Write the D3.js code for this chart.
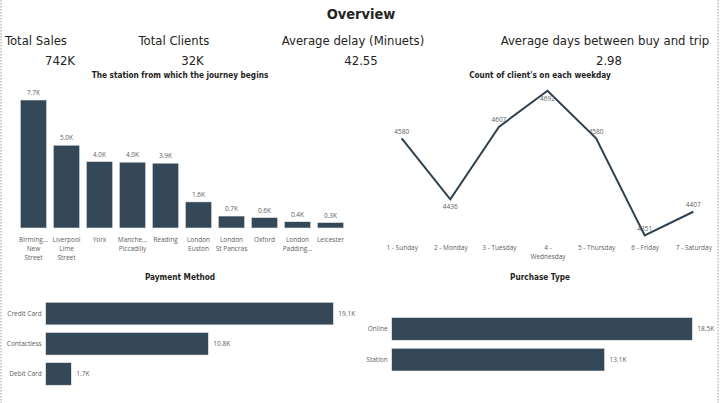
<!DOCTYPE html>
<html><head><meta charset="utf-8">
<script src="https://cdn.jsdelivr.net/npm/d3@7"></script>
<style>
body{margin:0;background:#fff;}
svg{display:block;}
</style></head>
<body><svg id="c" width="720" height="403"></svg>
<script>
// ---- data ----
const kpiLabels = ["Total Sales","Total Clients","Average delay (Minuets)","Average days between buy and trip"];
const kpiValues = ["742K","32K","42.55","2.98"];

const stations = ["Birming... New Street","Liverpool Lime Street","York","Manche... Piccadilly","Reading","London Euston","London St Pancras","Oxford","London Padding...","Leicester"];
const stationLines = [["Birming...","New","Street"],["Liverpool","Lime","Street"],["York"],["Manche...","Piccadilly"],["Reading"],["London","Euston"],["London","St Pancras"],["Oxford"],["London","Padding..."],["Leicester"]];
const stationCounts = [7700, 4980, 4000, 3960, 3900, 1570, 720, 630, 380, 330];

const weekdays = ["1 - Sunday","2 - Monday","3 - Tuesday","4 - Wednesday","5 - Thursday","6 - Friday","7 - Saturday"];
const weekdayLines = [["1 - Sunday"],["2 - Monday"],["3 - Tuesday"],["4 -","Wednesday"],["5 - Thursday"],["6 - Friday"],["7 - Saturday"]];
const weekdayCounts = [4580, 4436, 4607, 4692, 4580, 4351, 4407];

const payMethods = ["Credit Card","Contactless","Debit Card"];
const payCounts = [19100, 10800, 1700];

const purchaseTypes = ["Online","Station"];
const purchaseCounts = [18500, 13100];

// ---- styles ----
const BAR = "#344857";
const LBL = "#605E5C";
const DARK = "#252423";
const KFONT = "'DejaVu Sans Condensed','DejaVu Sans',sans-serif";
const SFONT = "'Open Sans','Noto Sans',sans-serif";
const fmtK = v => d3.format(".1f")(v/1000) + "K";

const svg = d3.select("#c");

// page dotted borders
svg.append("line").attr("x1",1).attr("x2",1).attr("y1",0).attr("y2",403)
  .attr("stroke","#999").attr("stroke-dasharray","1.5,1.5");
svg.append("line").attr("x1",718).attr("x2",718).attr("y1",0).attr("y2",403)
  .attr("stroke","#999").attr("stroke-dasharray","1.5,1.5");

// title
svg.append("text").attr("x",361).attr("y",18.5).attr("text-anchor","middle")
  .attr("font-family",KFONT).attr("font-weight","bold").attr("font-size",14.5)
  .attr("fill",DARK).text("Overview");

// KPIs
const kpiLabelX = [[5,"start"],[174,"middle"],[353,"middle"],[605,"middle"]];
const kpiValueX = [60,192.5,361,609];
kpiLabels.forEach((t,i)=>{
  svg.append("text").attr("x",kpiLabelX[i][0]).attr("y",45).attr("text-anchor",kpiLabelX[i][1])
    .attr("font-family",KFONT).attr("font-size",13).attr("fill",DARK).text(t);
  svg.append("text").attr("x",kpiValueX[i]).attr("y",64.5).attr("text-anchor","middle")
    .attr("font-family",KFONT).attr("font-size",13).attr("fill",DARK).text(kpiValues[i]);
});

function chartTitle(x,y,t){
  svg.append("text").attr("x",x).attr("y",y).attr("text-anchor","middle")
    .attr("font-family",KFONT).attr("font-weight","bold").attr("font-size",8.2)
    .attr("fill",DARK).text(t);
}

// ---- column chart ----
chartTitle(180,77.5,"The station from which the journey begins");
{
  const x = d3.scaleBand().domain(stations).range([17,347]).paddingInner(0.2).paddingOuter(0.1);
  const y = d3.scaleLinear().domain([0,7700]).range([228,100]);
  const g = svg.append("g");
  g.selectAll("rect").data(stations).join("rect")
    .attr("x",d=>x(d)).attr("width",x.bandwidth())
    .attr("y",(d,i)=>y(stationCounts[i])).attr("height",(d,i)=>y(0)-y(stationCounts[i]))
    .attr("fill",BAR).attr("stroke","#e8ecef").attr("stroke-width",0.6);
  g.selectAll("text.v").data(stations).join("text").attr("class","v")
    .attr("x",d=>x(d)+x.bandwidth()/2).attr("y",(d,i)=>y(stationCounts[i])-5)
    .attr("text-anchor","middle").attr("font-family",SFONT).attr("font-size",6.5).attr("fill",LBL)
    .text((d,i)=>fmtK(stationCounts[i]));
  const ax = g.append("g").attr("transform","translate(0,228)")
    .call(d3.axisBottom(x).tickSize(0).tickFormat(""));
  ax.select(".domain").remove();
  ax.selectAll(".tick").each(function(d,i){
    const t = d3.select(this).append("text").attr("text-anchor","middle")
      .attr("font-family",SFONT).attr("font-size",6.5).attr("fill",LBL);
    stationLines[i].forEach((s,j)=>t.append("tspan").attr("x",0).attr("y",14+j*9).text(s));
  });
}

// ---- line chart ----
chartTitle(540,77.5,"Count of client's on each weekday");
{
  const x = d3.scalePoint().domain(weekdays).range([401.7,693.3]);
  const y = d3.scaleLinear().domain([4351,4692]).range([235.5,90.8]);
  const g = svg.append("g");
  g.append("path").datum(weekdayCounts)
    .attr("d", d3.line().x((d,i)=>x(weekdays[i])).y(d=>y(d)))
    .attr("fill","none").attr("stroke","#2E4150").attr("stroke-width",2);
  const offs = [-4.5,10,-5,10.5,-4.5,-5,-4.8];
  g.selectAll("text.v").data(weekdayCounts).join("text").attr("class","v")
    .attr("x",(d,i)=>x(weekdays[i])).attr("y",(d,i)=>y(d)+offs[i])
    .attr("text-anchor","middle").attr("font-family",SFONT).attr("font-size",6.5).attr("fill",LBL)
    .text(d=>d);
  const ax = g.append("g").attr("transform","translate(0,240)")
    .call(d3.axisBottom(x).tickSize(0).tickFormat(""));
  ax.select(".domain").remove();
  ax.selectAll(".tick").each(function(d,i){
    const t = d3.select(this).append("text").attr("text-anchor","middle")
      .attr("font-family",SFONT).attr("font-size",6.5).attr("fill",LBL);
    weekdayLines[i].forEach((s,j)=>t.append("tspan").attr("x",0).attr("y",9.5+j*9).text(s));
  });
}

// ---- horizontal bars ----
function hbar(cats, vals, x0, pxPerK, y0, y1, pad){
  const y = d3.scaleBand().domain(cats).range([y0,y1]).paddingInner(pad).paddingOuter(pad/2);
  const x = d3.scaleLinear().domain([0,1000]).range([x0,x0+pxPerK]);
  const g = svg.append("g");
  g.selectAll("rect").data(cats).join("rect")
    .attr("x",x(0)).attr("y",d=>y(d)).attr("height",y.bandwidth())
    .attr("width",(d,i)=>x(vals[i])-x(0))
    .attr("fill",BAR).attr("stroke","#e8ecef").attr("stroke-width",0.6);
  g.selectAll("text.v").data(cats).join("text").attr("class","v")
    .attr("x",(d,i)=>x(vals[i])+5).attr("y",d=>y(d)+y.bandwidth()/2+2.5)
    .attr("font-family",SFONT).attr("font-size",6.5).attr("fill",LBL)
    .text((d,i)=>fmtK(vals[i]));
  const ax = g.append("g").attr("transform",`translate(${x0-4},0)`)
    .call(d3.axisLeft(y).tickSize(0).tickPadding(0));
  ax.select(".domain").remove();
  ax.selectAll("text").attr("font-family",SFONT).attr("font-size",6.5).attr("fill",LBL);
}

chartTitle(180,280,"Payment Method");
hbar(payMethods, payCounts, 45.7, 15.06, 298.5, 389, 0.25);

chartTitle(540,280,"Purchase Type");
hbar(purchaseTypes, purchaseCounts, 391.7, 16.25, 313.5, 375, 0.26);
</script>
</body></html>
